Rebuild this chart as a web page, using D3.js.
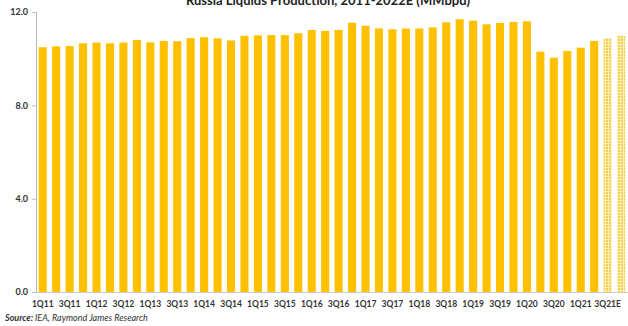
<!DOCTYPE html>
<html><head><meta charset="utf-8">
<script src="https://cdn.jsdelivr.net/npm/d3@7"></script>
<style>
body{margin:0;background:#fff;}
svg{display:block;font-family:Lato,"Open Sans",sans-serif;}
</style></head>
<body><svg id="c" width="628" height="326"></svg>
<script>
const quarters = ["1Q11","2Q11","3Q11","4Q11","1Q12","2Q12","3Q12","4Q12","1Q13","2Q13","3Q13","4Q13",
 "1Q14","2Q14","3Q14","4Q14","1Q15","2Q15","3Q15","4Q15","1Q16","2Q16","3Q16","4Q16",
 "1Q17","2Q17","3Q17","4Q17","1Q18","2Q18","3Q18","4Q18","1Q19","2Q19","3Q19","4Q19",
 "1Q20","2Q20","3Q20","4Q20","1Q21","2Q21","3Q21E","4Q21E"];
const production = [10.49,10.53,10.54,10.66,10.69,10.66,10.69,10.80,10.70,10.76,10.75,10.88,
 10.92,10.87,10.78,10.98,11.00,11.01,11.01,11.09,11.23,11.19,11.23,11.54,
 11.41,11.30,11.26,11.29,11.29,11.34,11.56,11.69,11.63,11.47,11.53,11.57,
 11.60,10.30,10.04,10.33,10.47,10.76,10.88,10.99];
const estimate = quarters.map(q => q.endsWith("E"));
const yTicks = [0, 4, 8, 12];
const title = "Russia Liquids Production, 2011-2022E (MMbpd)";
const source = "IEA, Raymond James Research";

const svg = d3.select("#c");
const defs = svg.append("defs");
const pat = defs.append("pattern").attr("id","est").attr("patternUnits","userSpaceOnUse")
  .attr("width",3).attr("height",3);
pat.append("rect").attr("width",3).attr("height",3).attr("fill","#FFF0B8");
pat.append("rect").attr("width",2).attr("height",2).attr("fill","#F5CC50");

const x = d3.scaleBand().domain(quarters).range([36, 36 + 13.45*quarters.length]).paddingInner(0.4).paddingOuter(0.2);
const y = d3.scaleLinear().domain([0,12]).range([292, 12]);

// title
svg.append("text").attr("x",328).attr("y",5).attr("text-anchor","middle")
  .attr("font-size",13).attr("font-weight","bold").attr("fill","#222").text(title);

// bars
svg.append("g").selectAll("rect").data(quarters).join("rect")
  .attr("x", d => x(d)).attr("width", x.bandwidth())
  .attr("y", (d,i) => y(production[i])).attr("height", (d,i) => y(0) - y(production[i]))
  .attr("fill", (d,i) => estimate[i] ? "url(#est)" : "#FFC000");

// y axis
const ya = svg.append("g").attr("transform","translate(36,0)")
  .call(d3.axisLeft(y).tickValues(yTicks).tickFormat(d3.format(".1f")).tickSize(4).tickPadding(4));
ya.select(".domain").attr("stroke","#bbb");
ya.selectAll(".tick line").attr("stroke","#bbb");
ya.selectAll("text").attr("font-size",9).attr("font-weight","bold").attr("fill","#333")
  .attr("font-family","Lato, sans-serif");

// x axis
const xa = svg.append("g").attr("transform","translate(0,292)")
  .call(d3.axisBottom(x).tickValues(quarters.filter((d,i)=>i%2===0)).tickSize(0).tickPadding(9));
xa.select(".domain").attr("stroke","#ccc").attr("d","M36,0.5H628");
xa.selectAll("text").attr("font-size",8.5).attr("font-weight","bold").attr("fill","#333")
  .attr("font-family","Lato, sans-serif");

// source
const s = svg.append("text").attr("x",5).attr("y",321).attr("font-size",9)
  .attr("font-style","italic").attr("fill","#333");
s.append("tspan").attr("font-weight","bold").text("Source: ");
s.append("tspan").text(source);
</script></body></html>
